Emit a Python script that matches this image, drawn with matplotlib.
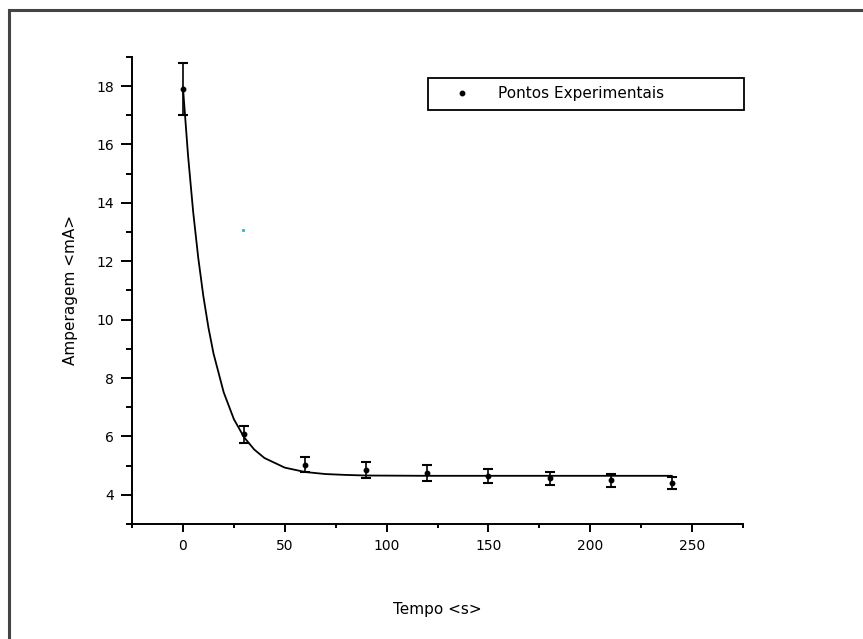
import numpy as np
import matplotlib
matplotlib.use("Agg")
import matplotlib.pyplot as plt
from matplotlib.lines import Line2D
from matplotlib.ticker import MultipleLocator

# experimental points (time in s, current in mA)
tempo = [0, 30, 60, 90, 120, 150, 180, 210, 240]
corrente = [17.9, 6.07, 5.03, 4.85, 4.75, 4.64, 4.57, 4.50, 4.41]
erro = [0.9, 0.30, 0.25, 0.27, 0.27, 0.23, 0.22, 0.22, 0.21]

# fitted decay curve
fit_t = [0, 2.5, 5, 7.5, 10, 12.5, 15, 20, 25, 30, 35, 40, 50, 60, 70, 80, 90,
         120, 150, 180, 210, 240]
fit_i = [17.95, 15.62, 13.70, 12.12, 10.81, 9.73, 8.84, 7.51, 6.59, 5.97, 5.55,
         5.26, 4.93, 4.78, 4.71, 4.68, 4.66, 4.65, 4.65, 4.65, 4.65, 4.65]

# stray cyan speck in the original
stray_t = [29.5]
stray_i = [13.07]

fig = plt.figure(figsize=(8.63, 6.39), dpi=100)
ax = fig.add_axes([0.153, 0.180, 0.708, 0.731])

# grey frame on the top and left of the picture
fig.add_artist(Line2D([0.0110, 0.0110], [0.0, 0.9843], transform=fig.transFigure,
                      color="#444444", lw=2.2))
fig.add_artist(Line2D([0.0110, 1.0], [0.9843, 0.9843], transform=fig.transFigure,
                      color="#444444", lw=2.2))

ax.plot(fit_t, fit_i, color="black", lw=1.3, zorder=2)
ax.errorbar(tempo, corrente, yerr=erro, fmt="o", color="black", ms=3.2,
            ecolor="black", elinewidth=1.2, capsize=3.6, capthick=1.5, zorder=3)
ax.plot(stray_t, stray_i, "s", color="#3fb8c8", ms=1.2, zorder=3)

ax.set_xlim(-25, 275)
ax.set_ylim(3, 19)
ax.xaxis.set_major_locator(MultipleLocator(50))
ax.xaxis.set_minor_locator(MultipleLocator(25))
ax.yaxis.set_major_locator(MultipleLocator(2))
ax.yaxis.set_minor_locator(MultipleLocator(1))

for s in ["top", "right"]:
    ax.spines[s].set_visible(False)
for s in ["left", "bottom"]:
    ax.spines[s].set_linewidth(1.4)

ax.tick_params(axis="x", which="major", direction="out", length=6, width=1.4,
               labelsize=10, pad=5)
ax.tick_params(axis="x", which="minor", direction="out", length=3, width=1.4)
ax.tick_params(axis="y", which="major", direction="out", length=8, width=1.4,
               labelsize=10, pad=5)
ax.tick_params(axis="y", which="minor", direction="out", length=4, width=1.4)

ax.set_xlabel("Tempo <s>", fontsize=11, labelpad=35)
ax.set_ylabel("Amperagem <mA>", fontsize=11, labelpad=13)

handle = Line2D([], [], marker="o", ls="none", color="black", ms=3.2)
leg = ax.legend([handle], ["Pontos Experimentais"], loc="upper left",
                bbox_to_anchor=(0.4845, 0.8865, 0.517, 0.0685), mode="expand",
                fancybox=False, frameon=True, edgecolor="black", fontsize=11,
                handletextpad=0.7, borderpad=0.55, borderaxespad=0,
                handlelength=3.3)
leg.get_frame().set_linewidth(1.3)
leg.get_frame().set_alpha(1)

fig.savefig("out.png", dpi=100)
